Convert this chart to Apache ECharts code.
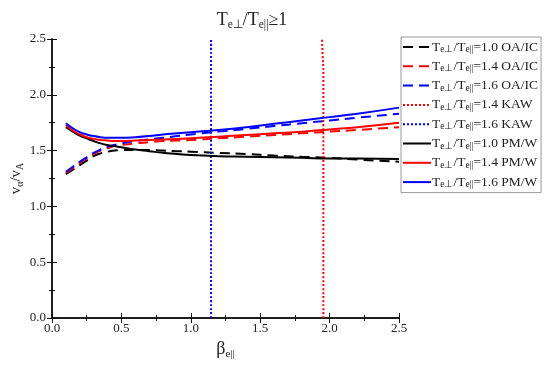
<!DOCTYPE html>
<html>
<head>
<meta charset="utf-8">
<script src="https://cdn.jsdelivr.net/npm/echarts@6/dist/echarts.min.js"></script>
<style>html,body{margin:0;padding:0;background:#fff;}#c{width:550px;height:366px;}</style>
</head>
<body>
<div id="c"></div>
<script>
var beta = [0.1,0.15,0.2,0.25,0.3,0.35,0.4,0.45,0.5,0.6,0.7,0.8,0.9,1.0,1.2,1.4,1.6,1.8,2.0,2.2,2.5];
var oa10 = [1.29,1.33,1.37,1.41,1.45,1.475,1.49,1.50,1.505,1.505,1.505,1.50,1.495,1.49,1.48,1.47,1.455,1.445,1.435,1.42,1.40];
var oa14 = [1.30,1.345,1.39,1.43,1.47,1.50,1.52,1.54,1.55,1.565,1.575,1.585,1.59,1.595,1.61,1.625,1.64,1.655,1.67,1.685,1.71];
var oa16 = [1.31,1.355,1.40,1.44,1.48,1.51,1.535,1.55,1.565,1.585,1.60,1.615,1.63,1.645,1.67,1.695,1.72,1.745,1.77,1.795,1.83];
var pm10 = [1.71,1.67,1.635,1.61,1.585,1.565,1.55,1.54,1.53,1.51,1.495,1.48,1.47,1.46,1.45,1.445,1.44,1.435,1.43,1.43,1.425];
var pm14 = [1.73,1.68,1.645,1.62,1.605,1.595,1.59,1.585,1.585,1.59,1.595,1.60,1.605,1.61,1.625,1.64,1.655,1.67,1.69,1.71,1.75];
var pm16 = [1.745,1.70,1.665,1.645,1.63,1.62,1.615,1.615,1.615,1.62,1.63,1.645,1.655,1.665,1.685,1.71,1.74,1.77,1.80,1.83,1.885];
var kaw14X = [1.955,1.955,1.95,1.945];
var kaw14Y = [0,2.2,2.35,2.5];
var kaw16X = [1.146,1.146];
var kaw16Y = [0,2.5];
var names = ['1.0 OA/IC','1.4 OA/IC','1.6 OA/IC','1.4 KAW','1.6 KAW','1.0 PM/W','1.4 PM/W','1.6 PM/W'];

function pairs(xs, ys){ return xs.map(function(x,i){ return [x, ys[i]]; }); }
var F = 'Liberation Serif';
function mk(name, xs, ys, color, type){
  return {name:name, type:'line', data:pairs(xs,ys), showSymbol:false, symbol:'none', smooth:true,
    lineStyle:{color:color, width:2, type:type}, itemStyle:{color:color}, z:3, animation:false};
}
var dash = [10,6], dot=[2,2];
var chart = echarts.init(document.getElementById('c'));
var axisCommon = {min:0, max:2.5, interval:0.5,
  axisLine:{show:true, lineStyle:{color:'#111', width:1.5}},
  axisTick:{show:true, inside:true, length:5, lineStyle:{color:'#111'}},
  minorTick:{show:true, splitNumber:2, length:3, lineStyle:{color:'#111'}},
  splitLine:{show:false}};
var sub = function(fs, lh){ return {fontFamily:F,fontSize:fs,color:'#222',lineHeight:lh,verticalAlign:'bottom'}; };
chart.setOption({
  backgroundColor:'#fff',
  animation:false,
  title:{text:'{t|T}{s|e⊥}{t|/T}{s|e||}{t|≥1}', left:247, top:5, textAlign:'center',
    textStyle:{fontWeight:'normal', rich:{t:{fontFamily:F,fontSize:18,color:'#222',lineHeight:21},s:sub(11.5,11)}}},
  grid:{left:52, right:151, top:39, bottom:48, containLabel:false, outerBoundsMode:'none'},
  legend:{left:401, top:37, orient:'vertical', itemWidth:28, itemHeight:14, itemGap:4.8,
    padding:[3,3,3,1], borderColor:'#999', borderWidth:1, backgroundColor:'#fff',
    itemStyle:{opacity:0},
    data:names,
    formatter:function(n){ var p=n.split(' '); return '{t|T}{s|e⊥}{t|/T}{s|e||}{t|='+p[0]+' '+p[1]+'}'; },
    textStyle:{padding:[0,0,0,-4], rich:{t:{fontFamily:F,fontSize:13.5,color:'#222',lineHeight:15},s:sub(9.5,9)}}},
  xAxis:[Object.assign({type:'value', position:'bottom',
      name:'{t|β}{s|e||}', nameLocation:'middle', nameGap:18,
      nameTextStyle:{rich:{t:{fontFamily:F,fontSize:18,color:'#222',lineHeight:22},s:sub(11,11)}},
      axisLabel:{fontFamily:F,fontSize:13,color:'#222',margin:4,formatter:function(v){return v.toFixed(1);}}}, axisCommon),
    Object.assign({type:'value', position:'top', axisLabel:{show:false}}, axisCommon)],
  yAxis:[Object.assign({type:'value', position:'left',
      name:'{t|v}{s|α}{t|/v}{s|A}', nameLocation:'middle', nameGap:27, nameRotate:90, nameMoveOverlap:false,
      nameTextStyle:{rich:{t:{fontFamily:F,fontSize:15,color:'#222',lineHeight:18},s:sub(10,10)}},
      axisLabel:{fontFamily:F,fontSize:13,color:'#222',margin:6,formatter:function(v){return v.toFixed(1);}}}, axisCommon),
    Object.assign({type:'value', position:'right', axisLabel:{show:false}}, axisCommon)],
  series:[
    mk(names[0], beta, oa10, '#000', dash),
    mk(names[1], beta, oa14, '#ff0000', dash),
    mk(names[2], beta, oa16, '#0000ff', dash),
    mk(names[3], kaw14X, kaw14Y, '#ff0000', dot),
    mk(names[4], kaw16X, kaw16Y, '#0000ff', dot),
    mk(names[5], beta, pm10, '#000', 'solid'),
    mk(names[6], beta, pm14, '#ff0000', 'solid'),
    mk(names[7], beta, pm16, '#0000ff', 'solid')
  ]
});
</script>
</body>
</html>
